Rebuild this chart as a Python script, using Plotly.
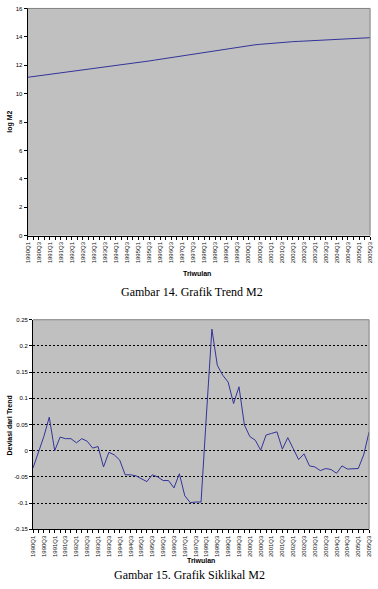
import plotly.graph_objects as go

# ---- data ----
quarters = [f"{y}Q{q}" for y in range(1990, 2006) for q in range(1, 5)][:63]  # 1990Q1 .. 2005Q3

trend_logm2 = [
    11.15, 11.20, 11.25, 11.30, 11.35, 11.40, 11.45, 11.50, 11.55, 11.60,
    11.65, 11.70, 11.75, 11.81, 11.86, 11.92, 11.97, 12.03, 12.08, 12.14,
    12.19, 12.25, 12.30, 12.36, 12.42, 12.48, 12.54, 12.61, 12.67, 12.74,
    12.80, 12.87, 12.93, 12.99, 13.06, 13.12, 13.18, 13.24, 13.29, 13.34,
    13.39, 13.43, 13.47, 13.51, 13.55, 13.58, 13.61, 13.64, 13.66, 13.68,
    13.70, 13.72, 13.74, 13.76, 13.78, 13.80, 13.82, 13.84, 13.86, 13.88,
    13.90, 13.92, 13.94,
]

cyclical_m2 = [
    -0.033, -0.002, 0.027, 0.064, 0.000, 0.026, 0.023, 0.023, 0.015, 0.023,
    0.018, 0.005, 0.008, -0.031, -0.003, -0.008, -0.018, -0.046, -0.046, -0.048,
    -0.053, -0.059, -0.046, -0.050, -0.057, -0.057, -0.071, -0.044, -0.086, -0.099,
    -0.098, -0.098, 0.070, 0.232, 0.163, 0.144, 0.131, 0.090, 0.122, 0.049,
    0.027, 0.020, 0.001, 0.030, 0.033, 0.036, 0.003, 0.025, 0.004, -0.017,
    -0.006, -0.029, -0.031, -0.038, -0.034, -0.036, -0.043, -0.029, -0.035, -0.034,
    -0.034, -0.008, 0.036,
]

y1_ticks = [0, 2, 4, 6, 8, 10, 12, 14, 16]
y2_ticks = [-0.15, -0.1, -0.05, 0, 0.05, 0.1, 0.15, 0.2, 0.25]
y2_ticktext = ["-0.15", "-0.1", "-0.05", "0", "0.05", "0.1", "0.15", "0.2", "0.25"]

# ---- figure ----
W, H = 378, 589
idx = list(range(len(quarters)))
xticktext = [q if i % 2 == 0 else "" for i, q in enumerate(quarters)]

LINE = "#333399"
BG = "#c0c0c0"
FONT = "Arial, Liberation Sans, sans-serif"

fig = go.Figure()
fig.add_trace(go.Scatter(x=idx, y=trend_logm2, xaxis="x", yaxis="y", mode="lines",
                         line=dict(color=LINE, width=1), showlegend=False, hoverinfo="skip"))
fig.add_trace(go.Scatter(x=idx, y=cyclical_m2, xaxis="x2", yaxis="y2", mode="lines",
                         line=dict(color=LINE, width=1), showlegend=False, hoverinfo="skip"))

def px_x(v):
    return v / W

def px_y(v):
    return 1 - v / H

xaxis_common = dict(
    range=[0, 62], tickmode="array", tickvals=idx, ticktext=xticktext,
    tickangle=-90, ticks="outside", ticklen=3, tickcolor="#000000",
    tickfont=dict(family=FONT, size=6, color="#111111"),
    showline=True, linecolor="#000000", linewidth=1, showgrid=False, zeroline=False,
    fixedrange=True,
)

fig.update_layout(
    width=W, height=H, margin=dict(l=0, r=0, t=0, b=0),
    paper_bgcolor="white", plot_bgcolor=BG,
    font=dict(family=FONT, color="#000000"),
    xaxis=dict(domain=[px_x(25), px_x(373)], anchor="y", **xaxis_common),
    yaxis=dict(domain=[px_y(235), px_y(5.5)], anchor="x", range=[0, 16],
               tickmode="array", tickvals=y1_ticks, ticks="outside", ticklen=3,
               tickcolor="#000000", tickfont=dict(family=FONT, size=6),
               showline=True, linecolor="#000000", linewidth=1,
               showgrid=False, zeroline=False),
    xaxis2=dict(domain=[px_x(30.5), px_x(372)], anchor="y2", **xaxis_common),
    yaxis2=dict(domain=[px_y(531.7), px_y(320)], anchor="x2", range=[-0.15, 0.25],
                tickmode="array", tickvals=y2_ticks, ticktext=y2_ticktext,
                ticks="outside", ticklen=3, tickcolor="#000000",
                tickfont=dict(family=FONT, size=6),
                showline=True, linecolor="#000000", linewidth=1,
                showgrid=True, gridcolor="#000000", gridwidth=1, griddash="2px,2px",
                zeroline=False),
)

# plot-area borders (gray, Excel style)
for xr, yr in (("x domain", "y domain"), ("x2 domain", "y2 domain")):
    fig.add_shape(type="line", xref=xr, yref=yr, x0=0, x1=1, y0=1, y1=1,
                  line=dict(color="#808080", width=1))
    fig.add_shape(type="line", xref=xr, yref=yr, x0=1, x1=1, y0=0, y1=1,
                  line=dict(color="#808080", width=1))

ann_font_b = dict(family=FONT, size=7, color="#000000")
annotations = [
    dict(text="<b>log M2</b>", x=px_x(7), y=px_y(120), textangle=-90, font=ann_font_b),
    dict(text="<b>Deviasi dari Trend</b>", x=px_x(7), y=px_y(427), textangle=-90, font=ann_font_b),
    dict(text="<b>Triwulan</b>", x=px_x(197), y=px_y(273), font=ann_font_b),
    dict(text="<b>Triwulan</b>", x=px_x(201), y=px_y(563.5), font=ann_font_b),
    dict(text="Gambar 14. Grafik Trend M2", x=px_x(192), y=px_y(292),
         font=dict(family="Times New Roman, Liberation Serif, serif", size=12, color="#000000")),
    dict(text="Gambar 15. Grafik Siklikal M2", x=px_x(189), y=px_y(578),
         font=dict(family="Times New Roman, Liberation Serif, serif", size=12, color="#000000")),
]
for a in annotations:
    fig.add_annotation(xref="paper", yref="paper", showarrow=False,
                       xanchor="center", yanchor="middle", **a)

fig.write_html("out.html")
